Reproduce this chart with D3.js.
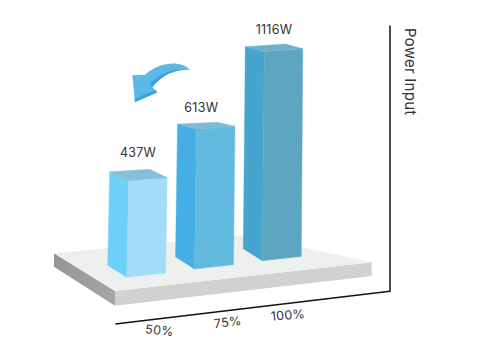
<!DOCTYPE html>
<html>
<head>
<meta charset="utf-8">
<script src="https://cdn.jsdelivr.net/npm/d3@7"></script>
<style>
  html, body { margin: 0; padding: 0; background: #fff; }
  svg { display: block; }
  text { font-family: Inter, "Open Sans", sans-serif; fill: #333; letter-spacing: 0.25px; }
</style>
</head>
<body>
<div id="chart"></div>
<script>
const categories = ["50%", "75%", "100%"];
const powerWatts = [437, 613, 1116];
const valueLabels = ["437W", "613W", "1116W"];
const yAxisTitle = "Power Input";

const width = 478;
const height = 354;

const svg = d3.select("#chart")
    .append("svg")
    .attr("width", width)
    .attr("height", height);

// Ground position of each bar's front corner (the bars walk up the platform)
const groundX = d3.scalePoint().domain(categories).range([126.7, 262.3]);
const groundY = d3.scalePoint().domain(categories).range([277.3, 260.7]);

// The picture is an illustration: bar height is not proportional to the value
const barHeight = d3.scaleLinear()
    .domain([437, 613, 1116])
    .range([96.6, 139.7, 209]);

// Taller bars are seen from further below, so their tops get flatter
const topRise = d3.scaleLinear().domain([437, 613, 1116]).range([9, 5.3, 5]);
const topBack = d3.scaleLinear().domain([437, 613, 1116]).range([11.4, 7, 7.7]);

const leftColor = d3.scaleOrdinal(categories, ["#6dd0f7", "#45aee5", "#45a5ce"]);
const rightColor = d3.scaleOrdinal(categories, ["#a3dcf7", "#62badf", "#5da6c1"]);
const topColor = d3.scaleOrdinal(categories, ["#85bfd8", "#7dbad7", "#6fb0c8"]);

// Value labels sit above the back corner, not quite evenly
const labelDx = d3.scaleOrdinal(categories, [-11.7, -16.2, -11.3]);
const labelDy = d3.scaleOrdinal(categories, [-12, -10.5, -10.5]);

const poly = d3.line();

// Platform
const platform = svg.append("g").attr("class", "platform");
const sideShade = svg.append("defs").append("linearGradient")
    .attr("id", "sideShade")
    .attr("x1", 0).attr("x2", 1).attr("y1", 0).attr("y2", 0);
sideShade.append("stop").attr("offset", 0).attr("stop-color", "#939596");
sideShade.append("stop").attr("offset", 1).attr("stop-color", "#a4a6a7");

platform.append("path")
    .attr("d", poly([[54, 253.3], [115, 291], [115, 305.7], [54, 266.7]]) + "Z")
    .attr("fill", "url(#sideShade)");
platform.append("path")
    .attr("d", poly([[115, 291], [371.7, 262.3], [371.7, 276], [115, 305.7]]) + "Z")
    .attr("fill", "#d0d2d1");
platform.append("path")
    .attr("d", poly([[54, 253.3], [244, 235], [371.7, 262.3], [115, 291]]) + "Z")
    .attr("fill", "#edf0ef");

// Bars
const bars = svg.append("g").attr("class", "bars")
    .selectAll("g")
    .data(categories.map((c, i) => ({ cat: c, value: powerWatts[i], label: valueLabels[i] })))
    .join("g");

function corners(d) {
    const x = groundX(d.cat);
    const y = groundY(d.cat);
    const h = barHeight(d.value);
    return {
        bl: [x - 19, y - 12],
        bf: [x, y],
        br: [x + 39, y - 4.3],
        tf: [x + 2, y - h],
        tl: [x - 17, y - h - topRise(d.value)],
        tb: [x + 23, y - h - topBack(d.value)],
        tr: [x + 40.5, y - h - 3]
    };
}

bars.append("path")
    .attr("d", d => { const c = corners(d); return poly([c.bl, c.bf, c.tf, c.tl]) + "Z"; })
    .attr("fill", d => leftColor(d.cat))
    .attr("stroke", d => leftColor(d.cat))
    .attr("stroke-width", 0.4);
bars.append("path")
    .attr("d", d => { const c = corners(d); return poly([c.bf, c.br, c.tr, c.tf]) + "Z"; })
    .attr("fill", d => rightColor(d.cat))
    .attr("stroke", d => rightColor(d.cat))
    .attr("stroke-width", 0.4);
bars.append("path")
    .attr("d", d => { const c = corners(d); return poly([c.tl, c.tb, c.tr, c.tf]) + "Z"; })
    .attr("fill", d => topColor(d.cat))
    .attr("stroke", d => topColor(d.cat))
    .attr("stroke-width", 0.4);

bars.append("text")
    .attr("x", d => corners(d).tb[0] + labelDx(d.cat))
    .attr("y", d => corners(d).tb[1] + labelDy(d.cat))
    .attr("text-anchor", "middle")
    .attr("font-size", 12.5)
    .text(d => d.label);

// Curved arrow
const arrow = svg.append("g").attr("class", "arrow");
arrow.append("path")
    .attr("d", "M190 69.7 C180 60 160 62 145 74.7 L132.3 75.3 L135 102.3 L157.3 92.3 L152.3 87.3 C160 77 172 69 190 69.7Z")
    .attr("fill", "#5cb9e6");
arrow.append("path")
    .attr("d", "M135 102.3 L157.3 92.3 L155.5 90.2 L134.6 98.5Z")
    .attr("fill", "#38a4df");
arrow.append("path")
    .attr("d", "M152.3 87.3 C160 77 172 69 190 69.7 C172 67 157 75 149.5 84.5Z")
    .attr("fill", "#38a4df");

// X axis lies along the skewed floor line
const xAxisAngle = -6.8;
const xPos = d3.scaleOrdinal(categories, [42.6, 111.4, 171.9]);
const tickTilt = d3.scaleOrdinal(categories, [13, 0, 2]);
const xAxisG = svg.append("g")
    .attr("class", "x-axis")
    .attr("transform", `translate(115.3,324) rotate(${xAxisAngle})`)
    .call(d3.axisBottom(xPos).tickSize(0).tickSizeOuter(0).tickPadding(7));
xAxisG.select(".domain")
    .attr("d", "M0,0H276.6")
    .attr("stroke", "#111")
    .attr("stroke-width", 1.5);
xAxisG.selectAll("text")
    .attr("font-size", 12.5)
    .attr("transform", d => `rotate(${tickTilt(d)},0,11.7)`);

// Y axis has a line and a title, no ticks
const yScale = d3.scaleLinear().domain([0, 1]).range([291.3, 25]);
const yAxisG = svg.append("g")
    .attr("class", "y-axis")
    .attr("transform", "translate(389.5,0)")
    .call(d3.axisRight(yScale).tickValues([]).tickSizeOuter(0));
yAxisG.select(".domain")
    .attr("stroke", "#111")
    .attr("stroke-width", 1.5);

svg.append("text")
    .attr("transform", "translate(405,71.7) rotate(90)")
    .attr("text-anchor", "middle")
    .attr("font-size", 15)
    .text(yAxisTitle);
</script>
</body>
</html>
